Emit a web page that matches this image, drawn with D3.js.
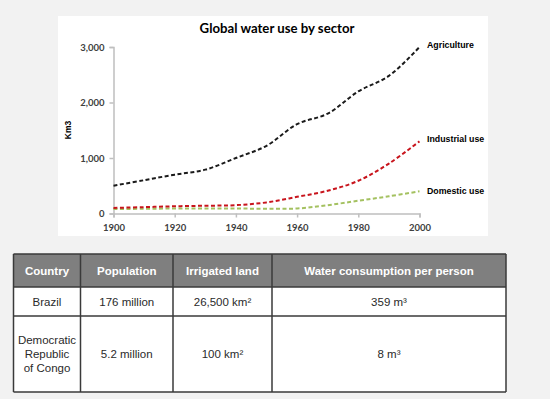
<!DOCTYPE html>
<html>
<head>
<meta charset="utf-8">
<script src="https://cdn.jsdelivr.net/npm/d3@7"></script>
<style>
  body { margin: 0; background: #f2f2f2; }
  svg { display: block; }
</style>
</head>
<body>
<div id="chart"></div>
<script>
"use strict";
// chart data
var years = [1900, 1910, 1920, 1930, 1940, 1950, 1960, 1970, 1980, 1990, 2000];
var agriculture = [500, 600, 700, 790, 1000, 1220, 1610, 1800, 2200, 2480, 3000];
var industrial = [100, 115, 130, 140, 150, 200, 300, 410, 590, 900, 1300];
var domestic = [80, 85, 90, 90, 90, 85, 90, 150, 230, 310, 400];
var seriesNames = ["Agriculture", "Industrial use", "Domestic use"];
var yTicks = [0, 1000, 2000, 3000];
var xTicks = [1900, 1920, 1940, 1960, 1980, 2000];

// table data
var tableHeader = ["Country", "Population", "Irrigated land", "Water consumption per person"];
var tableRows = [
    [["Brazil"], ["176 million"], ["26,500 km\u00b2"], ["359 m\u00b3"]],
    [["Democratic", "Republic", "of Congo"], ["5.2 million"], ["100 km\u00b2"], ["8 m\u00b3"]]
];

var W = 550, H = 399;
var svg = d3.select("#chart").append("svg")
    .attr("width", W)
    .attr("height", H);

svg.append("rect").attr("width", W).attr("height", H).attr("fill", "#f2f2f2");

// chart box
svg.append("rect")
    .attr("x", 58).attr("y", 16)
    .attr("width", 430).attr("height", 220)
    .attr("fill", "#ffffff");

var x = d3.scaleLinear().domain([1900, 2000]).range([113.5, 419.5]);
var y = d3.scaleLinear().domain([0, 3000]).range([213.5, 47]);

svg.append("text")
    .attr("x", 277).attr("y", 33)
    .attr("text-anchor", "middle")
    .style("font-family", "Lato, 'Open Sans', sans-serif")
    .style("font-weight", "bold")
    .style("font-size", "13.2px")
    .attr("fill", "#000")
    .text("Global water use by sector");

var yAxis = svg.append("g")
    .attr("transform", "translate(" + x(1900) + ",0)")
    .call(d3.axisLeft(y).tickValues(yTicks).tickSize(4).tickPadding(5).tickFormat(d3.format(",")));
var xAxis = svg.append("g")
    .attr("transform", "translate(0," + y(0) + ")")
    .call(d3.axisBottom(x).tickValues(xTicks).tickSize(4).tickPadding(7).tickFormat(d3.format("d")));

[yAxis, xAxis].forEach(function (ax) {
    ax.select(".domain").attr("stroke", "#bfbfbf").attr("stroke-width", 1.5);
    ax.selectAll(".tick line").attr("stroke", "#bfbfbf").attr("stroke-width", 1.5);
    ax.selectAll(".tick text")
        .attr("fill", "#404040")
        .style("font-family", "Lato, 'Open Sans', sans-serif")
        .style("font-weight", "bold")
        .style("font-size", "9.5px");
});

svg.append("text")
    .attr("transform", "translate(71,130) rotate(-90)")
    .attr("text-anchor", "middle")
    .style("font-family", "Liberation Sans, Arial, sans-serif")
    .style("font-weight", "bold")
    .style("font-size", "8.5px")
    .attr("fill", "#000")
    .text("Km3");

var series = [
    { name: seriesNames[0], values: agriculture, color: "#1a1a1a", labelY: 45 },
    { name: seriesNames[1], values: industrial, color: "#c8141c", labelY: 139 },
    { name: seriesNames[2], values: domestic, color: "#a4c160", labelY: 191 }
];

var line = d3.line()
    .x(function (d, i) { return x(years[i]); })
    .y(function (d) { return y(d); })
    .curve(d3.curveCatmullRom.alpha(0.5));

svg.append("g").selectAll("path")
    .data(series.slice().reverse())
    .enter().append("path")
    .attr("d", function (s) { return line(s.values); })
    .attr("fill", "none")
    .attr("stroke", function (s) { return s.color; })
    .attr("stroke-width", 2)
    .attr("stroke-dasharray", "4,2.5");

svg.append("g").selectAll("text")
    .data(series)
    .enter().append("text")
    .attr("x", 427)
    .attr("y", function (s) { return s.labelY; })
    .attr("dy", "0.35em")
    .style("font-family", "Liberation Sans, Arial, sans-serif")
    .style("font-weight", "bold")
    .style("font-size", "8.8px")
    .attr("fill", "#000")
    .text(function (s) { return s.name; });

// table
var colEdges = [13.5, 80.5, 173, 272, 506];
var rowEdges = [254, 287, 316, 392];
var tbl = svg.append("g");

tbl.append("rect")
    .attr("x", colEdges[0]).attr("y", rowEdges[0])
    .attr("width", colEdges[4] - colEdges[0]).attr("height", rowEdges[1] - rowEdges[0])
    .attr("fill", "#7f7f7f");
tbl.append("rect")
    .attr("x", colEdges[0]).attr("y", rowEdges[1])
    .attr("width", colEdges[4] - colEdges[0]).attr("height", rowEdges[3] - rowEdges[1])
    .attr("fill", "#ffffff");

tbl.selectAll("text.head")
    .data(tableHeader)
    .enter().append("text")
    .attr("class", "head")
    .attr("x", function (d, i) { return (colEdges[i] + colEdges[i + 1]) / 2; })
    .attr("y", (rowEdges[0] + rowEdges[1]) / 2)
    .attr("dy", "0.35em")
    .attr("text-anchor", "middle")
    .attr("fill", "#ffffff")
    .style("font-family", "Liberation Sans, Arial, sans-serif")
    .style("font-weight", "bold")
    .style("font-size", "11.5px")
    .text(function (d) { return d; });

tableRows.forEach(function (row, r) {
    var cy = (rowEdges[r + 1] + rowEdges[r + 2]) / 2;
    row.forEach(function (cell, c) {
        var t = tbl.append("text")
            .attr("text-anchor", "middle")
            .attr("fill", "#2a2a2a")
            .style("font-family", "Liberation Sans, Arial, sans-serif")
            .style("font-size", "11.5px");
        cell.forEach(function (ln, k) {
            t.append("tspan")
                .attr("x", (colEdges[c] + colEdges[c + 1]) / 2)
                .attr("y", cy + (k - (cell.length - 1) / 2) * 14)
                .attr("dy", "0.35em")
                .text(ln);
        });
    });
});

tbl.selectAll("line.v")
    .data(colEdges)
    .enter().append("line")
    .attr("x1", function (d) { return d; }).attr("x2", function (d) { return d; })
    .attr("y1", rowEdges[0]).attr("y2", rowEdges[3])
    .attr("stroke", "#3a3a3a").attr("stroke-width", 1.5);
tbl.selectAll("line.h")
    .data(rowEdges)
    .enter().append("line")
    .attr("x1", colEdges[0]).attr("x2", colEdges[4])
    .attr("y1", function (d) { return d; }).attr("y2", function (d) { return d; })
    .attr("stroke", "#3a3a3a").attr("stroke-width", 1.5);
</script>
</body>
</html>
